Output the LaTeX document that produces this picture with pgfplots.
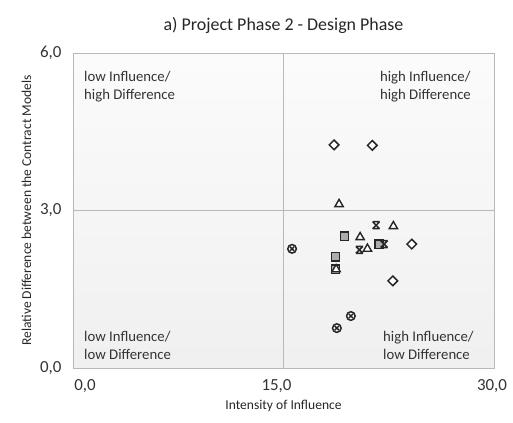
\documentclass[border=0pt]{standalone}
\usepackage{pgfplots}
\pgfplotsset{compat=1.18}
\usepackage{fontspec}
\setmainfont{Carlito}
\pgfdeclareplotmark{xbar}{%
  \pgfpathmoveto{\pgfqpoint{-\pgfplotmarksize}{-\pgfplotmarksize}}%
  \pgfpathlineto{\pgfqpoint{\pgfplotmarksize}{\pgfplotmarksize}}%
  \pgfpathmoveto{\pgfqpoint{-\pgfplotmarksize}{\pgfplotmarksize}}%
  \pgfpathlineto{\pgfqpoint{\pgfplotmarksize}{-\pgfplotmarksize}}%
  \pgfpathmoveto{\pgfqpoint{-\pgfplotmarksize}{\pgfplotmarksize}}%
  \pgfpathlineto{\pgfqpoint{\pgfplotmarksize}{\pgfplotmarksize}}%
  \pgfpathmoveto{\pgfqpoint{-\pgfplotmarksize}{-\pgfplotmarksize}}%
  \pgfpathlineto{\pgfqpoint{\pgfplotmarksize}{-\pgfplotmarksize}}%
  \pgfusepathqstroke}
\pgfdeclareplotmark{circx}{%
  \pgfpathcircle{\pgfpointorigin}{\pgfplotmarksize}%
  \pgfusepathqfillstroke
  \pgfpathmoveto{\pgfqpoint{-0.5\pgfplotmarksize}{-0.5\pgfplotmarksize}}%
  \pgfpathlineto{\pgfqpoint{0.5\pgfplotmarksize}{0.5\pgfplotmarksize}}%
  \pgfpathmoveto{\pgfqpoint{-0.5\pgfplotmarksize}{0.5\pgfplotmarksize}}%
  \pgfpathlineto{\pgfqpoint{0.5\pgfplotmarksize}{-0.5\pgfplotmarksize}}%
  \pgfusepathqstroke}
\begin{document}
\begin{tikzpicture}
\path[use as bounding box] (-73bp,-55bp) rectangle (440bp,368bp);
\begin{axis}[
  scale only axis,
  width=421bp, height=315bp,
  xmin=0, xmax=30, ymin=0, ymax=6,
  xtick={0,15,30}, ytick={0,3,6},
  xticklabels={{\hspace*{24bp}0,0},{15,0\hspace*{14bp}},{30,0\hspace*{4bp}}},
  major tick length=0pt,
  grid=major,
  major grid style={gray!55, line width=0.6pt},
  axis line style={gray!55, line width=0.8pt},
  axis background/.style={shade, top color=gray!3, bottom color=gray!12},
  /pgf/number format/.cd, fixed, fixed zerofill, precision=1, use comma, assume math mode=true,
  /pgfplots/.cd,
  ticklabel style={font=\fontsize{17}{19}\selectfont, text=black!80},
  xticklabel style={yshift=-8bp},
  yticklabel style={xshift=-8bp},
  xlabel={Intensity of Influence},
  ylabel={Relative Difference between the Contract Models},
  label style={font=\fontsize{13.6}{15}\selectfont, text=black!85},
  xlabel style={yshift=-1bp},
  ylabel style={yshift=2bp},
  title={a) Project Phase 2 - Design Phase},
  title style={font=\fontsize{18}{20}\selectfont, text=black!85, yshift=10bp},
  clip=false,
]
% quadrant labels
\node[anchor=north west, align=left, font=\fontsize{14.8}{18}\selectfont, text=black!80] at (axis cs:0.55,5.72) {low Influence/\\high Difference};
\node[anchor=north east, align=left, font=\fontsize{14.8}{18}\selectfont, text=black!80] at (axis cs:28.6,5.72) {high Influence/\\high Difference};
\node[anchor=south west, align=left, font=\fontsize{14.8}{18}\selectfont, text=black!80] at (axis cs:0.55,0.1) {low Influence/\\low Difference};
\node[anchor=south east, align=left, font=\fontsize{14.8}{18}\selectfont, text=black!80] at (axis cs:28.8,0.1) {high Influence/\\low Difference};
% squares
\addplot[only marks, mark=square*, mark size=4.2bp, mark options={fill=gray!65, draw=black!85, line width=1.4pt}] coordinates {
(19.34,2.51) (18.7,2.12) (18.7,1.88) (21.83,2.36)};
% diamonds
\addplot[only marks, mark=square*, mark size=3.4bp, mark options={rotate=45, fill=white, draw=black!85, line width=1.5pt}] coordinates {
(18.6,4.25) (21.33,4.24) (24.14,2.36) (22.79,1.66)};
% triangles
\addplot[only marks, mark=triangle*, mark size=4.8bp, mark options={fill=white, draw=black!85, line width=1.4pt}] coordinates {
(18.96,3.12) (22.83,2.70) (20.46,2.49) (20.98,2.27) (18.75,1.88)};
% x-bar stars
\addplot[only marks, mark=xbar, mark size=3.5bp, mark options={draw=black!85, line width=1.5pt}] coordinates {
(21.6,2.72) (20.41,2.25) (22.17,2.36)};
% circled x
\addplot[only marks, mark=circx, mark size=4.3bp, mark options={fill=white, draw=black!85, line width=1.5pt}] coordinates {
(15.61,2.27) (19.8,0.99) (18.8,0.76)};
\end{axis}
\end{tikzpicture}
\end{document}
